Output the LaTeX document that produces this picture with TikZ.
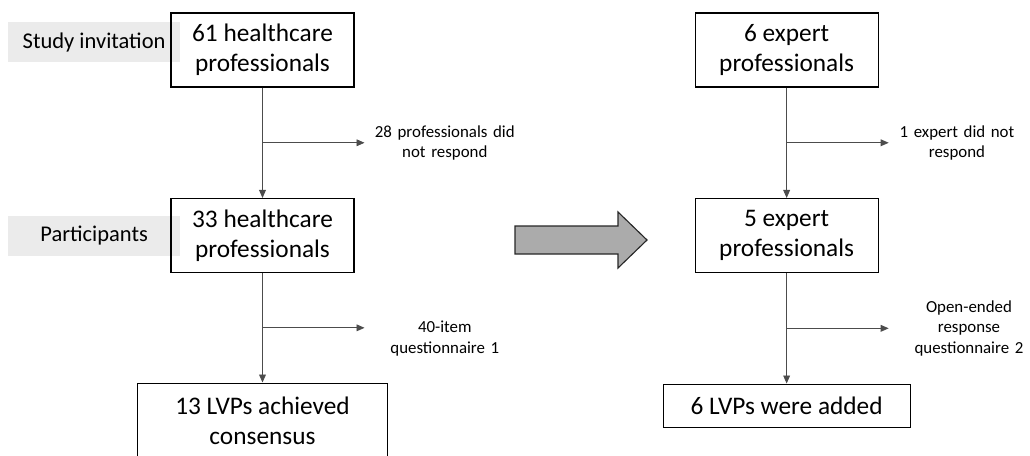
\documentclass[tikz,border=0pt]{standalone}
\usepackage{fontspec}
\setmainfont{Carlito}
\usetikzlibrary{positioning, arrows.meta, calc, backgrounds}

\begin{document}
\begin{tikzpicture}[x=0.025cm, y=-0.025cm, node distance=4.6375cm,
    box/.style={draw, line width=0.8pt, align=center, minimum width=4.575cm, minimum height=1.85cm, font=\fontsize{18}{21.5}\selectfont},
    sidetag/.style={fill=black!8, minimum width=4.3cm, minimum height=1cm, font=\fontsize{16}{19}\selectfont},
    sidenote/.style={align=center, text width=3.8cm, inner sep=0pt, font=\fontsize{12}{14.6}\selectfont},
    flowline/.style={draw=black!70, line width=0.6pt, -{Triangle[length=2mm, width=1.7mm]}},
    bigarrow/.style={fill=black!33, draw=black!85, line width=0.8pt}]
    % Page size
    \useasboundingbox (0,0) rectangle (1030,455);

    % Round one
    \node[box] (inv1) at (262.5,50) {61 healthcare\\professionals};
    \node[box, below of=inv1] (part1) {33 healthcare\\professionals};
    \node[box, below of=part1, minimum width=6.25cm, minimum height=1.9cm] (res1) {13 LVPs achieved\\consensus};

    % Round two
    \node[box, right of=inv1, node distance=13.1cm] (inv2) {6 expert\\professionals};
    \node[box, below of=inv2] (part2) {5 expert\\professionals};
    \node[box, below of=part2, node distance=4.25cm, minimum width=6.175cm, minimum height=1.075cm] (res2) {6 LVPs were added};

    % Grey tags on the left
    \begin{scope}[on background layer]
    \node[sidetag, left=-0.25cm of inv1, yshift=0.2cm] (invtag) {Study invitation};
    \node[sidetag, left=-0.25cm of part1] (parttag) {Participants};
    \end{scope}

    % Branch points
    \coordinate (m1) at ($(inv1.south)!0.5!(part1.north)$);
    \coordinate (m2) at ($(part1.south)!0.5!(res1.north)$);
    \coordinate (m3) at ($(inv2.south)!0.5!(part2.north)$);
    \coordinate (m4) at ($(part2.south)!0.5!(res2.north)$);
    \coordinate[right=2.55cm of m1] (e1);
    \coordinate[right=2.55cm of m2] (e2);
    \coordinate[right=2.55cm of m3] (e3);
    \coordinate[right=2.55cm of m4] (e4);

    % Flow between boxes
    \draw[flowline] (inv1) -- (part1);
    \draw[flowline] (part1) -- (res1);
    \draw[flowline] (inv2) -- (part2);
    \draw[flowline] (part2) -- (res2);
    \draw[flowline] (m1) -- (e1);
    \draw[flowline] (m2) -- (e2);
    \draw[flowline] (m3) -- (e3);
    \draw[flowline] (m4) -- (e4);

    % Side notes
    \node[sidenote, right=0.1cm of e1] (skip1) {28 professionals did\\not respond};
    \node[sidenote, right=0.1cm of e2, yshift=-0.27cm] (quest1) {40-item\\questionnaire 1};
    \node[sidenote, right=0.1cm of e3, xshift=-0.3cm] (skip2) {1 expert did not\\respond};
    \node[sidenote, right=0.1cm of e4] (quest2) {Open-ended\\response\\questionnaire 2};

    % Big arrow between rounds
    \draw[bigarrow] (515,226) -- (618,226) -- (618,212) -- (647,240) -- (618,268) -- (618,254) -- (515,254) -- cycle;

    \end{tikzpicture}
\end{document}
